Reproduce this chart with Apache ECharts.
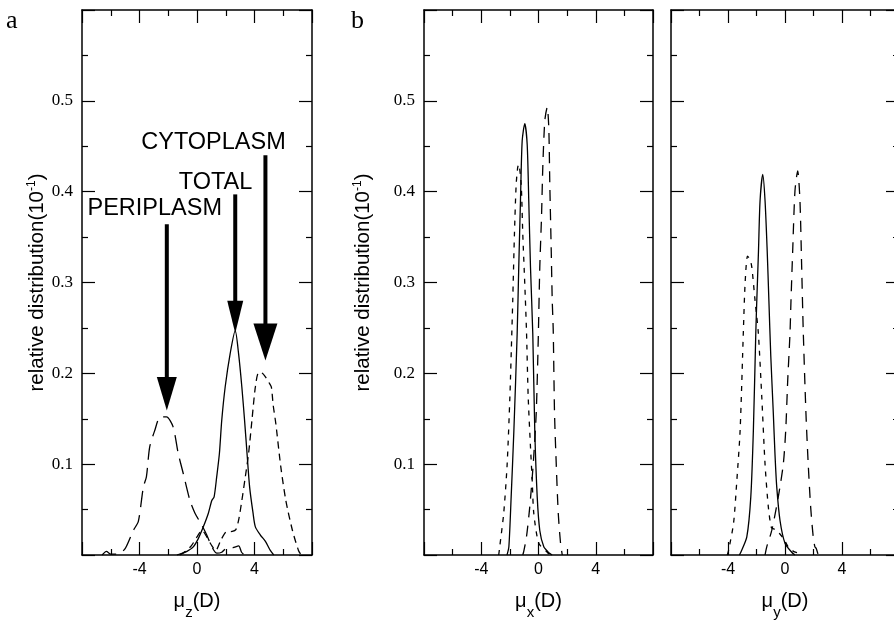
<!DOCTYPE html>
<html><head><meta charset="utf-8">
<script src="https://cdn.jsdelivr.net/npm/echarts@6/dist/echarts.min.js"></script>
<style>html,body{margin:0;padding:0;background:#fff}#c{width:894px;height:622px}</style>
</head><body><div id="c"></div>
<script>
// ---------- data ----------
const panelLetters = ['a', 'b'];
const xTickLabels = ['-4', '0', '4'];
const yTickLabels = ['0.1', '0.2', '0.3', '0.4', '0.5'];
const xTitles = ['z', 'x', 'y'];

// panel a : mu_z
const totalAx = [-1.4, -1.0, -0.7, -0.26, 0.09, 0.44, 0.79, 1.03, 1.19, 1.37, 1.56, 1.72, 1.96, 2.31, 2.66, 2.89, 3.12, 3.31, 3.48, 3.66, 3.9, 4.06, 4.41, 4.76, 5.1, 5.34];
const totalAy = [0, 0.002, 0.004, 0.009, 0.018, 0.031, 0.046, 0.06, 0.064, 0.086, 0.112, 0.148, 0.185, 0.222, 0.247, 0.222, 0.185, 0.148, 0.112, 0.075, 0.046, 0.031, 0.022, 0.015, 0.005, 0];
const cytoAx = [-1.2, -0.8, -0.4, 0.0, 0.35, 0.68, 1.0, 1.3, 1.65, 2.0, 2.45, 2.7, 2.89, 3.12, 3.36, 3.59, 3.82, 4.06, 4.29, 4.55, 4.76, 5.0, 5.17, 5.3, 5.48, 5.83, 6.18, 6.64, 7.06, 7.25];
const cytoAy = [0, 0.004, 0.01, 0.02, 0.027, 0.02, 0.011, 0.005, 0.016, 0.025, 0.026, 0.028, 0.038, 0.06, 0.086, 0.112, 0.148, 0.185, 0.201, 0.2, 0.196, 0.19, 0.185, 0.165, 0.145, 0.097, 0.06, 0.027, 0.005, 0];
const periAx = [-6.6, -6.3, -6.0, -5.5, -5.0, -4.43, -4.08, -3.73, -3.52, -3.29, -2.94, -2.56, -2.12, -1.66, -1.31, -0.96, -0.49, -0.14, 0.33, 0.68, 1.03, 1.38, 1.72, 2.0, 2.5, 2.9, 3.1, 3.3];
const periAy = [0, 0.004, 0.001, 0.001, 0.007, 0.027, 0.037, 0.075, 0.086, 0.119, 0.137, 0.152, 0.152, 0.141, 0.112, 0.09, 0.06, 0.046, 0.033, 0.022, 0.009, 0.002, 0.003, 0.007, 0.008, 0.01, 0.003, 0];

// panel b : mu_x
const totalBx = [-2.2, -2.07, -1.91, -1.72, -1.49, -1.38, -1.26, -1.14, -0.96, -0.79, -0.68, -0.56, -0.4, -0.26, -0.09, 0.09, 0.37, 0.72, 0.95];
const totalBy = [0, 0.009, 0.064, 0.137, 0.244, 0.317, 0.39, 0.456, 0.475, 0.452, 0.39, 0.317, 0.244, 0.137, 0.064, 0.027, 0.009, 0.0025, 0];
const cytoBx = [-2.78, -2.71, -2.43, -2.19, -2.0, -1.86, -1.8, -1.68, -1.56, -1.45, -1.38, -1.21, -1.1, -0.96, -0.84, -0.72, -0.56, -0.44, -0.33, 0.02, 0.61, 0.8];
const cytoBy = [0, 0.009, 0.046, 0.1, 0.174, 0.247, 0.28, 0.354, 0.408, 0.427, 0.43, 0.408, 0.354, 0.299, 0.247, 0.174, 0.119, 0.082, 0.046, 0.013, 0.003, 0];
const periBx = [-1.1, -1.03, -0.84, -0.61, -0.37, -0.16, -0.02, 0.09, 0.21, 0.3, 0.44, 0.61, 0.72, 0.79, 0.89, 0.96, 1.03, 1.12, 1.24, 1.38, 1.54, 1.66];
const periBy = [0, 0.004, 0.02, 0.053, 0.1, 0.156, 0.236, 0.317, 0.372, 0.427, 0.478, 0.493, 0.47, 0.408, 0.335, 0.28, 0.247, 0.156, 0.1, 0.046, 0.013, 0];

// panel c : mu_y
const totalCx = [-3.2, -3.1, -2.68, -2.4, -2.22, -2.05, -1.98, -1.86, -1.75, -1.56, -1.4, -1.25, -1.13, -1.0, -0.82, -0.7, -0.58, -0.35, 0.0, 0.47, 0.7];
const totalCy = [0, 0.003, 0.02, 0.064, 0.137, 0.244, 0.28, 0.335, 0.39, 0.419, 0.39, 0.335, 0.28, 0.22, 0.156, 0.11, 0.075, 0.038, 0.013, 0.003, 0];
const cytoCx = [-4.05, -3.96, -3.61, -3.38, -3.15, -2.92, -2.8, -2.63, -2.45, -2.33, -2.1, -1.87, -1.63, -1.4, -1.17, -0.95, -0.7, -0.4, -0.1, 0.23, 0.6, 0.93, 1.1];
const cytoCy = [0, 0.005, 0.035, 0.082, 0.137, 0.247, 0.299, 0.329, 0.325, 0.317, 0.28, 0.244, 0.174, 0.1, 0.053, 0.03, 0.028, 0.024, 0.018, 0.009, 0.004, 0.002, 0];
const periCx = [-1.4, -1.28, -0.93, -0.47, -0.12, 0.05, 0.19, 0.35, 0.42, 0.54, 0.7, 0.89, 1.05, 1.17, 1.28, 1.47, 1.63, 1.8, 1.98, 2.1, 2.2, 2.33];
const periCy = [0, 0.009, 0.027, 0.064, 0.1, 0.137, 0.192, 0.244, 0.28, 0.335, 0.401, 0.423, 0.39, 0.317, 0.247, 0.156, 0.1, 0.053, 0.02, 0.009, 0.007, 0];

// annotations in panel a (data units)
const annoNames = ['PERIPLASM', 'TOTAL', 'CYTOPLASM'];
const annoTextX = [-2.94, 1.29, 1.15];
const annoTextY = [0.381, 0.41, 0.454];
const arrowX = [-2.1, 2.66, 4.76];
const arrowTop = [0.364, 0.397, 0.44];
const arrowHeadBase = [0.196, 0.280, 0.255];
const arrowTip = [0.159, 0.244, 0.214];

// ---------- styles ----------
const headHalfWidth = [10, 8, 12];
const grids = [
  { left: 82, top: 10, width: 230, height: 545 },
  { left: 424, top: 10, width: 229, height: 545 },
  { left: 671, top: 10, width: 228, height: 545 }
];
const yNameGap = [34, 50, 0];
const shortDash = [[7, 5], [5, 6], [5, 6]];
const longDash = [[16, 8], [11, 8], [11, 8]];

const sans = '"Liberation Sans", Arial, sans-serif';
const serif = '"Liberation Serif", "Times New Roman", serif';

function pairs(xs, ys) { return xs.map((x, i) => [x, ys[i]]); }

function fmtVal(v, list) {
  const s = (Math.abs(v) < 1e-9 ? 0 : Math.round(v * 10) / 10).toString();
  return list.includes(s) ? s : '';
}

const tickStyle = { color: '#000', width: 1.2 };
const lineAxis = { onZero: false, lineStyle: { color: '#000', width: 1.5 } };

const xAxes = [], yAxes = [];
grids.forEach((g, gi) => {
  const bx = {
    gridIndex: gi, type: 'value', min: -8, max: 8, interval: 4,
    axisLine: lineAxis,
    axisTick: { inside: true, length: 13, lineStyle: tickStyle },
    minorTick: { show: true, splitNumber: 2, length: 6, lineStyle: tickStyle },
    splitLine: { show: false }, minorSplitLine: { show: false }
  };
  xAxes.push(Object.assign({}, bx, {
    position: 'bottom',
    axisLabel: { show: true, margin: 7, fontSize: 16, fontFamily: sans, color: '#000', formatter: v => fmtVal(v, xTickLabels) },
    name: '{m|μ}{s|' + xTitles[gi] + '}{m|(D)}', nameLocation: 'middle', nameGap: 36,
    nameTextStyle: {
      rich: {
        m: { fontSize: 20, fontFamily: sans, color: '#000', lineHeight: 24, verticalAlign: 'top' },
        s: { fontSize: 15, fontFamily: sans, color: '#000', lineHeight: 10, verticalAlign: 'top', padding: [14, 0, 0, 0] }
      }
    }
  }));
  xAxes.push(Object.assign({}, bx, { position: 'top', axisLabel: { show: false } }));
  const by = {
    gridIndex: gi, type: 'value', min: 0, max: 0.6, interval: 0.1,
    axisLine: lineAxis,
    axisTick: { inside: true, length: 13, lineStyle: tickStyle },
    minorTick: { show: true, splitNumber: 2, length: 6, lineStyle: tickStyle },
    splitLine: { show: false }, minorSplitLine: { show: false }
  };
  const left = Object.assign({}, by, {
    position: 'left',
    axisLabel: { show: gi < 2, margin: 9, fontSize: 17, fontFamily: serif, color: '#000', formatter: v => fmtVal(v, yTickLabels) }
  });
  if (gi < 2) {
    Object.assign(left, {
      name: '{m|relative distribution(10}{p|-1}{m|)}', nameLocation: 'middle', nameRotate: 90, nameGap: yNameGap[gi],
      nameTextStyle: {
        rich: {
          m: { fontSize: 20.5, fontFamily: sans, color: '#000', lineHeight: 22 },
          p: { fontSize: 12, fontFamily: sans, color: '#000', lineHeight: 12, verticalAlign: 'top' }
        }
      }
    });
  }
  yAxes.push(left);
  yAxes.push(Object.assign({}, by, { position: 'right', axisLabel: { show: false } }));
});

const curveSets = [
  [[totalAx, totalAy], [cytoAx, cytoAy], [periAx, periAy]],
  [[totalBx, totalBy], [cytoBx, cytoBy], [periBx, periBy]],
  [[totalCx, totalCy], [cytoCx, cytoCy], [periCx, periCy]]
];
const series = [];
curveSets.forEach((set, gi) => {
  set.forEach((c, k) => {
    series.push({
      type: 'line', xAxisIndex: gi * 2, yAxisIndex: gi * 2,
      data: pairs(c[0], c[1]), showSymbol: false, symbol: 'none', smooth: 0.25,
      lineStyle: { color: '#000', width: 1.3, type: k === 0 ? 'solid' : (k === 1 ? shortDash[gi] : longDash[gi]) },
      silent: true, z: 3
    });
  });
});

series.push({
  type: 'custom', xAxisIndex: 0, yAxisIndex: 0, silent: true, z: 5,
  data: annoNames.map((n, i) => [arrowX[i], arrowTop[i], arrowHeadBase[i], arrowTip[i], annoTextX[i], annoTextY[i]]),
  encode: { x: [0, 4], y: [1, 2, 3, 5] },
  renderItem(params, api) {
    const i = params.dataIndex;
    const top = api.coord([api.value(0), api.value(1)]);
    const base = api.coord([api.value(0), api.value(2)]);
    const tip = api.coord([api.value(0), api.value(3)]);
    const txt = api.coord([api.value(4), api.value(5)]);
    const hw = headHalfWidth[i];
    return {
      type: 'group', children: [
        { type: 'line', shape: { x1: top[0], y1: top[1], x2: base[0], y2: base[1] + 2 }, style: { stroke: '#000', lineWidth: 4 } },
        { type: 'polygon', shape: { points: [[base[0] - hw, base[1]], [base[0] + hw, base[1]], [tip[0], tip[1]]] }, style: { fill: '#000' } },
        { type: 'text', x: txt[0], y: txt[1], style: { text: annoNames[i], fontSize: 23.5, fontFamily: sans, fill: '#000', align: 'center', verticalAlign: 'middle' } }
      ]
    };
  }
});

const chart = echarts.init(document.getElementById('c'), null, { renderer: 'canvas' });
chart.setOption({
  backgroundColor: '#fff',
  animation: false,
  title: [
    { text: panelLetters[0], left: 6, top: 8, padding: 0, textStyle: { fontFamily: serif, fontSize: 26, fontWeight: 'normal', color: '#000' } },
    { text: panelLetters[1], left: 351, top: 8, padding: 0, textStyle: { fontFamily: serif, fontSize: 26, fontWeight: 'normal', color: '#000' } }
  ],
  grid: grids.map(g => Object.assign({ containLabel: false, outerBoundsMode: 'none' }, g)),
  xAxis: xAxes,
  yAxis: yAxes,
  series: series
});
</script>
</body></html>
